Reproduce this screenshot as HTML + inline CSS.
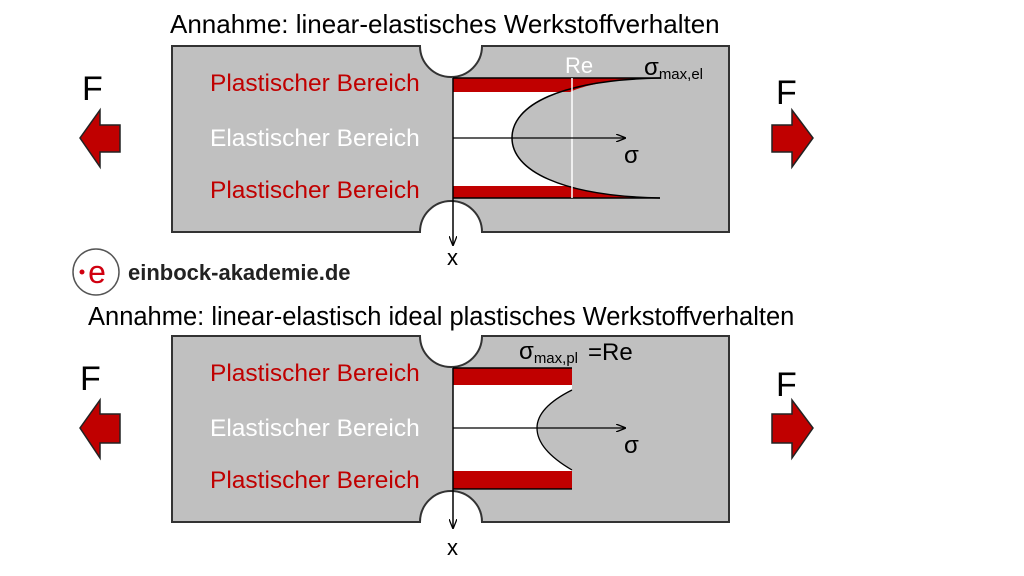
<!DOCTYPE html>
<html><head><meta charset="utf-8"><style>
body{margin:0;background:#fff;width:1024px;height:576px;overflow:hidden}
svg{display:block;font-family:"Liberation Sans",sans-serif}
</style></head><body>
<svg width="1024" height="576" viewBox="0 0 1024 576">
<defs>
<marker id="ah" markerWidth="10" markerHeight="8" refX="9" refY="4" orient="auto" markerUnits="userSpaceOnUse"><path d="M0,0 L10,4 L0,8" fill="none" stroke="#000" stroke-width="1.3"/></marker>
</defs>
<text x="170" y="33" font-size="26">Annahme: linear-elastisches Werkstoffverhalten</text>
<path d="M172,46 H420 A31,31 0 0 0 482,46 H729 V232 H482 A31,31 0 0 0 420,232 H172 Z" fill="#c0c0c0" stroke="#333" stroke-width="2"/>
<rect x="453" y="78" width="119" height="120" fill="#fff"/>
<path d="M453,78 H660 C560,80 512,105 512,138 C512,170 560,196 660,198 H572 V78 Z" fill="#c0c0c0"/>
<path d="M453,78 H660 C620,79 590,83 570,92 H453 Z" fill="#c00000"/>
<path d="M453,198 H660 C620,197 590,193 570,186 H453 Z" fill="#c00000"/>
<path d="M660,78 C560,80 512,105 512,138 C512,170 560,196 660,198" fill="none" stroke="#000" stroke-width="1.5"/>
<line x1="453" y1="78" x2="660" y2="78" stroke="#000" stroke-width="1.5"/>
<line x1="453" y1="198" x2="660" y2="198" stroke="#000" stroke-width="1.5"/>
<line x1="572" y1="78" x2="572" y2="198" stroke="#fff" stroke-width="1.5"/>
<line x1="453" y1="78" x2="453" y2="245" stroke="#000" stroke-width="1.5" marker-end="url(#ah)"/>
<line x1="453" y1="138" x2="625" y2="138" stroke="#000" stroke-width="1.3" marker-end="url(#ah)"/>
<text x="210" y="91" font-size="24.5" fill="#c00000">Plastischer Bereich</text>
<text x="210" y="146" font-size="24.5" fill="#fff">Elastischer Bereich</text>
<text x="210" y="198" font-size="24.5" fill="#c00000">Plastischer Bereich</text>
<text x="565" y="73" font-size="22" fill="#fff">Re</text>
<text x="644" y="75" font-size="24">σ<tspan font-size="15" dy="4">max,el</tspan></text>
<text x="624" y="163" font-size="24">σ</text>
<text x="447" y="265" font-size="22">x</text>
<text x="82" y="100" font-size="34">F</text>
<path d="M120,125 V152 H100 V167 L80,138 L100,110 V125 Z" fill="#c00000" stroke="#222" stroke-width="1.5"/>
<text x="776" y="104" font-size="34">F</text>
<path d="M772,125 V152 H792 V167 L813,138 L792,110 V125 Z" fill="#c00000" stroke="#222" stroke-width="1.5"/>
<circle cx="96" cy="272" r="23" fill="#fff" stroke="#555" stroke-width="1.5"/>
<circle cx="82" cy="272" r="2.5" fill="#d00010"/>
<text x="97" y="283" font-size="32" fill="#d00010" text-anchor="middle">e</text>
<text x="128" y="280" font-size="22" font-weight="bold" fill="#222">einbock-akademie.de</text>
<text x="88" y="325" font-size="25.5">Annahme: linear-elastisch ideal plastisches Werkstoffverhalten</text>
<path d="M172,336 H420 A31,31 0 0 0 482,336 H729 V522 H482 A31,31 0 0 0 420,522 H172 Z" fill="#c0c0c0" stroke="#333" stroke-width="2"/>
<rect x="453" y="368" width="119" height="122" fill="#fff"/>
<path d="M572,390 C548,402 537,415 537,428 C537,442 548,456 572,470 Z" fill="#c0c0c0"/>
<path d="M572,390 C548,402 537,415 537,428 C537,442 548,456 572,470" fill="none" stroke="#000" stroke-width="1.3"/>
<rect x="453" y="368" width="119" height="17" fill="#c00000"/>
<rect x="453" y="471" width="119" height="18" fill="#c00000"/>
<line x1="453" y1="368" x2="572" y2="368" stroke="#000" stroke-width="1.5"/>
<line x1="453" y1="489" x2="572" y2="489" stroke="#000" stroke-width="1.5"/>
<line x1="453" y1="368" x2="453" y2="528" stroke="#000" stroke-width="1.5" marker-end="url(#ah)"/>
<line x1="453" y1="428" x2="625" y2="428" stroke="#000" stroke-width="1.3" marker-end="url(#ah)"/>
<text x="210" y="381" font-size="24.5" fill="#c00000">Plastischer Bereich</text>
<text x="210" y="436" font-size="24.5" fill="#fff">Elastischer Bereich</text>
<text x="210" y="488" font-size="24.5" fill="#c00000">Plastischer Bereich</text>
<text x="519" y="359" font-size="24">σ<tspan font-size="15" dy="4">max,pl</tspan></text>
<text x="588" y="360" font-size="24">=Re</text>
<text x="624" y="453" font-size="24">σ</text>
<text x="447" y="555" font-size="22">x</text>
<text x="80" y="390" font-size="34">F</text>
<path d="M120,414 V443 H100 V458 L80,428 L100,400 V414 Z" fill="#c00000" stroke="#222" stroke-width="1.5"/>
<text x="776" y="396" font-size="34">F</text>
<path d="M772,414 V443 H792 V458 L813,428 L792,400 V414 Z" fill="#c00000" stroke="#222" stroke-width="1.5"/>
</svg>
</body></html>
